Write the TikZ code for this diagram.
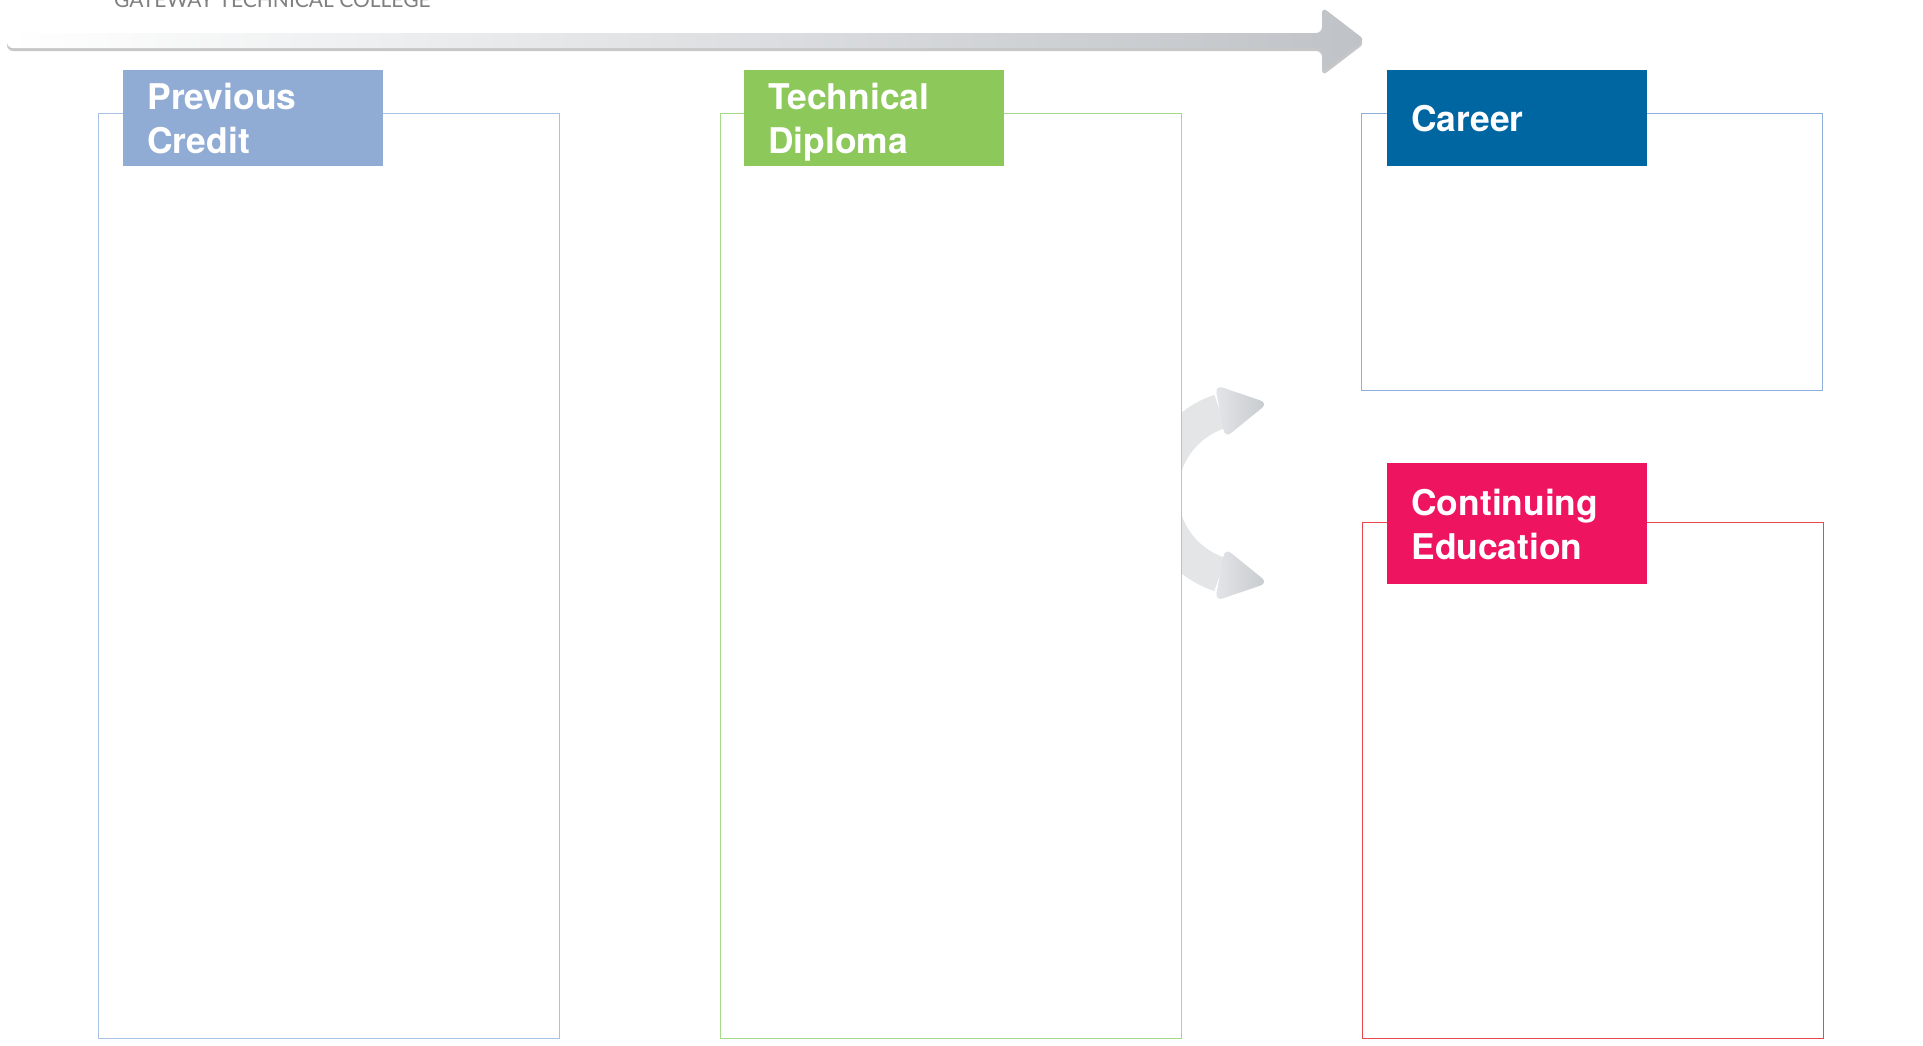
\documentclass[tikz,border=0pt]{standalone}
\usepackage{fontspec}
\setmainfont{TeX Gyre Heros}
\newfontfamily\collegefont{Lato}
\usepackage{tikz}
\usetikzlibrary{shapes, calc, positioning, shadings}
\usetikzlibrary{arrows.meta}

\definecolor{creditfill}{HTML}{91ACD4}
\definecolor{creditline}{HTML}{A9C1E2}
\definecolor{diplomafill}{HTML}{8CC85A}
\definecolor{diplomaline}{HTML}{A6D98A}
\definecolor{careerfill}{HTML}{0066A1}
\definecolor{careerline}{HTML}{8FB0DA}
\definecolor{contfill}{HTML}{EE1460}
\definecolor{contline}{HTML}{E8474F}
\definecolor{arrowgray}{HTML}{BFC3C7}
\definecolor{ringgray}{HTML}{E3E5E7}
\definecolor{headgray}{HTML}{C6CACE}

\begin{document}
\begin{tikzpicture}[
  x=0.5pt, y=-0.5pt,
  panel/.style={rectangle, draw, fill=white, line width=0.6pt, anchor=north west, minimum width=230.5pt, inner sep=0pt},
  header/.style={rectangle, anchor=north west, minimum height=48pt, inner xsep=12pt, inner ysep=0pt, text width=106pt, align=left, text=white, font=\fontsize{17.7}{22}\selectfont\bfseries},
  two lines/.style={text depth=22pt},
  ring/.style={draw=ringgray, line width=17.5pt},
  ringhead/.style={left color=ringgray, right color=headgray, rounded corners=4pt}
]
\useasboundingbox (0,0) rectangle (1923,1045);

\node[anchor=base west, text=black!50, font=\collegefont\fontsize{10.5}{12}\selectfont] (college) at (107,7) {GATEWAY TECHNICAL COLLEGE};

\coordinate (timestart) at (7,40);
\coordinate (timeend) at (1365,40);
\fill[black!22, rounded corners=3pt] ($(timestart)+(0,-7)+(0,3)$) -- ($(timestart)+(0,8)+(0,3)$) -- (1322,51) -- (1322,76) -- ($(timeend)+(0,3)$) -- (1322,10) -- (1322,36) -- cycle;
\shade[left color=white, right color=arrowgray, rounded corners=3pt] ($(timestart)+(0,-7)$) -- ($(timestart)+(0,8)$) -- (1322,48) -- (1322,73) -- (timeend) -- (1322,7) -- (1322,33) -- cycle;

\coordinate (ringcenter) at (1246,493);
\draw[ring] (1220.1,411.5) arc[start angle=107.6, end angle=252.4, radius=42.75pt];
\shade[ringhead] (1215,385) -- (1268,403) -- (1225,438) -- cycle;
\shade[ringhead] (1225,548) -- (1268,583) -- (1215,601) -- cycle;

\node[panel, draw=creditline, minimum height=462.5pt] (creditbox) at (98,113) {};
\node[panel, draw=diplomaline, minimum height=462.5pt] (diplomabox) at (720,113) {};
\node[panel, draw=careerline, minimum height=138.5pt] (careerbox) at (1361,113) {};
\node[panel, draw=contline, minimum height=258pt] (contbox) at (1362,522) {};

\node[header, two lines, fill=creditfill] (credit) at ([shift={(25,-43)}]creditbox.north west) {Previous\\Credit};
\node[header, two lines, fill=diplomafill] (diploma) at ([shift={(24,-43)}]diplomabox.north west) {Technical\\Diploma};
\node[header, fill=careerfill] (career) at ([shift={(26,-43)}]careerbox.north west) {Career};
\node[header, two lines, fill=contfill, minimum height=60.5pt] (cont) at ([shift={(25,-59)}]contbox.north west) {Continuing\\Education};

\end{tikzpicture}
\end{document}
